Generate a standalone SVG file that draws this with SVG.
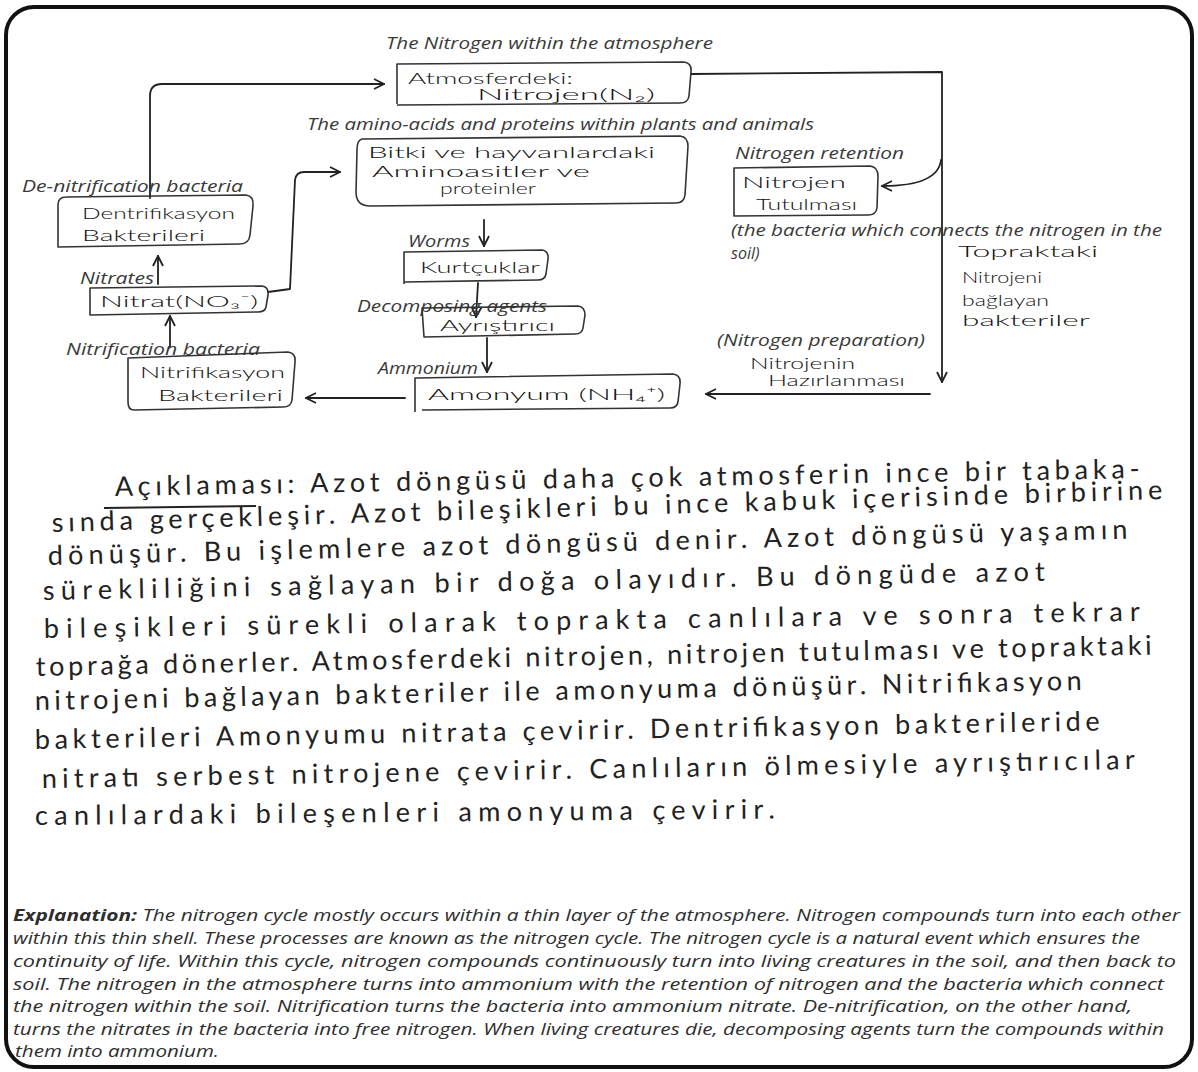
<svg xmlns="http://www.w3.org/2000/svg" width="1198" height="1072" viewBox="0 0 1198 1072">
  <defs>
    <marker id="arr" viewBox="0 0 12 12" refX="11" refY="6" markerWidth="12" markerHeight="12" markerUnits="userSpaceOnUse" orient="auto">
      <path d="M1,1 L11,6 L1,11" fill="none" stroke="#222" stroke-width="1.8"/>
    </marker>
    <style>
      .cap { font-family: "Open Sans", "Noto Sans", sans-serif; font-style: italic; font-size: 16px; fill: #3a3a3a; }
      .hw { font-family: "Lato", "Open Sans", "DejaVu Sans", sans-serif; font-weight: 400; fill: #222; }
      .hb { font-size: 16px; font-weight: 300; fill: #111; }
      .hp { font-size: 27px; }
      .box { fill: none; stroke: #333; stroke-width: 1.6; stroke-linejoin: round; }
      .conn { fill: none; stroke: #222; stroke-width: 1.8; stroke-linecap: round; stroke-linejoin: round; }
      .ex { font-family: "Open Sans", "Noto Sans", sans-serif; font-style: italic; font-size: 16px; fill: #2e2e2e; }
    </style>
  </defs>

  <rect width="1198" height="1072" fill="#fff"/>
  <!-- outer frame -->
  <rect x="6" y="7" width="1186" height="1060" rx="28" ry="28" fill="none" stroke="#111" stroke-width="4"/>

  <!-- connectors -->
  <g id="connectors">
    <path class="conn" d="M150,198 L150,96 Q150,84 162,84 L384,84" marker-end="url(#arr)"/>
    <path class="conn" d="M691,74 L942,72 L942,382" marker-end="url(#arr)"/>
    <path class="conn" d="M941,160 Q938,186 882,186" marker-end="url(#arr)"/>
    <path class="conn" d="M930,394 L706,394" marker-end="url(#arr)"/>
    <path class="conn" d="M405,398 L306,398" marker-end="url(#arr)"/>
    <path class="conn" d="M268,292 L290,289 L295,180 Q296,172 304,172 L340,172" marker-end="url(#arr)"/>
    <path class="conn" d="M158,284 L158,256" marker-end="url(#arr)"/>
    <path class="conn" d="M170,347 L170,316" marker-end="url(#arr)"/>
    <path class="conn" d="M484,220 L484,246" marker-end="url(#arr)"/>
    <path class="conn" d="M478,283 L476,317" marker-end="url(#arr)"/>
    <path class="conn" d="M487,338 L487,372" marker-end="url(#arr)"/>
  </g>

  <!-- nodes -->
  <g id="atmosphere">
    <text class="cap" x="386" y="49" textLength="327" lengthAdjust="spacingAndGlyphs">The Nitrogen within the atmosphere</text>
    <path class="box" d="M397,104 L397,64 L684,62 Q692,63 691,72 L689,96 Q688,103 680,103 L397,105"/>
    <text class="hw hb" x="408" y="84" textLength="165" lengthAdjust="spacingAndGlyphs">Atmosferdeki:</text>
    <text class="hw hb" x="477" y="100" textLength="178" lengthAdjust="spacingAndGlyphs">Nitrojen(N₂)</text>
  </g>

  <g id="plants-animals">
    <text class="cap" x="307" y="130" textLength="507" lengthAdjust="spacingAndGlyphs">The amino-acids and proteins within plants and animals</text>
    <path class="box" d="M362,139 L680,136 Q688,137 688,146 L685,195 Q684,203 676,203 L370,206 Q356,206 356,192 L357,150 Q357,140 362,139 Z"/>
    <text class="hw hb" x="368" y="158" textLength="287" lengthAdjust="spacingAndGlyphs">Bitki ve hayvanlardaki</text>
    <text class="hw hb" x="372" y="177" textLength="218" lengthAdjust="spacingAndGlyphs">Aminoasitler ve</text>
    <text class="hw hb" font-size="14" x="440" y="194" textLength="96" lengthAdjust="spacingAndGlyphs">proteinler</text>
  </g>

  <g id="nitrogen-retention">
    <text class="cap" x="735" y="159" textLength="169" lengthAdjust="spacingAndGlyphs">Nitrogen retention</text>
    <path class="box" d="M734,216 L734,168 L870,166 Q878,167 878,176 L877,208 Q876,215 868,215 Z"/>
    <text class="hw hb" x="742" y="188" textLength="104" lengthAdjust="spacingAndGlyphs">Nitrojen</text>
    <text class="hw hb" x="756" y="210" textLength="101" lengthAdjust="spacingAndGlyphs">Tutulması</text>
    <text class="cap" x="731" y="236" textLength="431" lengthAdjust="spacingAndGlyphs">(the bacteria which connects the nitrogen in the</text>
    <text class="cap" x="731" y="259">soil)</text>
  </g>

  <g id="soil-bacteria">
    <text class="hw hb" font-size="18" x="958" y="257" textLength="140" lengthAdjust="spacingAndGlyphs">Topraktaki</text>
    <text class="hw hb" font-size="18" x="962" y="283" textLength="80" lengthAdjust="spacingAndGlyphs">Nitrojeni</text>
    <text class="hw hb" font-size="18" x="962" y="306" textLength="87" lengthAdjust="spacingAndGlyphs">bağlayan</text>
    <text class="hw hb" font-size="15" x="962" y="326" textLength="128" lengthAdjust="spacingAndGlyphs">bakteriler</text>
  </g>

  <g id="denitrification">
    <text class="cap" x="22" y="192" textLength="221" lengthAdjust="spacingAndGlyphs">De-nitrification bacteria</text>
    <path class="box" d="M66,197 L246,195 Q254,196 253,206 L250,235 Q249,244 240,244 L58,247 L58,205 Q58,197 66,197"/>
    <text class="hw hb" x="82" y="219" textLength="153" lengthAdjust="spacingAndGlyphs">Dentrifikasyon</text>
    <text class="hw hb" x="82" y="241" textLength="123" lengthAdjust="spacingAndGlyphs">Bakterileri</text>
  </g>

  <g id="nitrate">
    <text class="cap" x="80" y="284" textLength="74" lengthAdjust="spacingAndGlyphs">Nitrates</text>
    <path class="box" d="M90,315 L90,288 L262,286 Q269,287 268,295 L266,307 Q265,312 258,312 Z"/>
    <text class="hw hb" x="100" y="307" textLength="158" lengthAdjust="spacingAndGlyphs">Nitrat(NO₃⁻)</text>
  </g>

  <g id="nitrification">
    <text class="cap" x="66" y="355" textLength="194" lengthAdjust="spacingAndGlyphs">Nitrification bacteria</text>
    <path class="box" d="M128,358 L288,352 Q296,353 295,362 L292,400 Q291,407 283,407 L134,410 Q128,410 128,402 Z"/>
    <text class="hw hb" x="140" y="378" textLength="145" lengthAdjust="spacingAndGlyphs">Nitrifikasyon</text>
    <text class="hw hb" x="158" y="401" textLength="125" lengthAdjust="spacingAndGlyphs">Bakterileri</text>
  </g>

  <g id="worms">
    <text class="cap" x="408" y="247" textLength="62" lengthAdjust="spacingAndGlyphs">Worms</text>
    <path class="box" d="M404,284 L404,252 L542,250 Q549,251 548,259 L546,274 Q545,280 538,280 L404,282"/>
    <text class="hw hb" x="420" y="273" textLength="120" lengthAdjust="spacingAndGlyphs">Kurtçuklar</text>
  </g>

  <g id="decomposers">
    <text class="cap" x="357" y="312" textLength="190" lengthAdjust="spacingAndGlyphs">Decomposing agents</text>
    <path class="box" d="M424,337 L422,308 L578,306 Q585,307 585,315 L583,328 Q582,334 575,334 Z"/>
    <text class="hw hb" x="440" y="331" textLength="115" lengthAdjust="spacingAndGlyphs">Ayrıştırıcı</text>
  </g>

  <g id="ammonium">
    <text class="cap" x="378" y="374" textLength="100" lengthAdjust="spacingAndGlyphs">Ammonium</text>
    <path class="box" d="M415,412 L415,378 L673,374 Q681,375 680,384 L678,402 Q677,408 670,408 L422,410"/>
    <text class="hw hb" font-size="17" x="428" y="400" textLength="237" lengthAdjust="spacingAndGlyphs">Amonyum (NH₄⁺)</text>
  </g>

  <g id="nitrogen-preparation">
    <text class="cap" x="717" y="346" textLength="208" lengthAdjust="spacingAndGlyphs">(Nitrogen preparation)</text>
    <text class="hw hb" font-size="13" x="750" y="369" textLength="105" lengthAdjust="spacingAndGlyphs">Nitrojenin</text>
    <text class="hw hb" font-size="13" x="768" y="386" textLength="137" lengthAdjust="spacingAndGlyphs">Hazırlanması</text>
  </g>

  <!-- handwritten description -->
  <g id="description" class="hw hp">
    <text transform="rotate(-1.0 115 496)" x="115" y="496" textLength="1025" lengthAdjust="spacing">Açıklaması: Azot döngüsü daha çok atmosferin ince bir tabaka-</text>
    <path d="M104,508 L256,506" fill="none" stroke="#222" stroke-width="1.8"/>
    <text transform="rotate(-1.7 52 532)" x="52" y="532" textLength="1111" lengthAdjust="spacing">sında gerçekleşir. Azot bileşikleri bu ince kabuk içerisinde birbirine</text>
    <text transform="rotate(-1.4 48 565)" x="48" y="565" textLength="1080" lengthAdjust="spacing">dönüşür. Bu işlemlere azot döngüsü denir. Azot döngüsü yaşamın</text>
    <text transform="rotate(-1.1 43 600)" x="43" y="600" textLength="1002" lengthAdjust="spacing">sürekliliğini sağlayan bir doğa olayıdır. Bu döngüde azot</text>
    <text transform="rotate(-0.9 44 638)" x="44" y="638" textLength="1096" lengthAdjust="spacing">bileşikleri sürekli olarak toprakta canlılara ve sonra tekrar</text>
    <text transform="rotate(-1.1 36 676)" x="36" y="676" textLength="1116" lengthAdjust="spacing">toprağa dönerler. Atmosferdeki nitrojen, nitrojen tutulması ve topraktaki</text>
    <text transform="rotate(-1.1 35 710)" x="35" y="710" textLength="1047" lengthAdjust="spacing">nitrojeni bağlayan bakteriler ile amonyuma dönüşür. Nitrifikasyon</text>
    <text transform="rotate(-1.0 35 749)" x="35" y="749" textLength="1065" lengthAdjust="spacing">bakterileri Amonyumu nitrata çevirir. Dentrifikasyon bakterileride</text>
    <text transform="rotate(-1.0 42 788)" x="42" y="788" textLength="1093" lengthAdjust="spacing">nitratı serbest nitrojene çevirir. Canlıların ölmesiyle ayrıştırıcılar</text>
    <text transform="rotate(-0.5 35 825)" x="35" y="825" textLength="740" lengthAdjust="spacing">canlılardaki bileşenleri amonyuma çevirir.</text>
  </g>

  <!-- English explanation -->
  <g id="explanation" class="ex">
    <text x="13" y="921" textLength="1167" lengthAdjust="spacingAndGlyphs"><tspan font-weight="bold">Explanation:</tspan>  The nitrogen cycle mostly occurs within a thin layer of the atmosphere. Nitrogen  compounds  turn  into  each other</text>
    <text x="13" y="944" textLength="1127" lengthAdjust="spacingAndGlyphs">within this thin shell. These processes are known as the nitrogen cycle. The nitrogen cycle is a natural event which ensures the</text>
    <text x="13" y="967" textLength="1163" lengthAdjust="spacingAndGlyphs">continuity of life. Within  this  cycle,  nitrogen  compounds  continuously  turn  into  living  creatures  in  the soil, and then back to</text>
    <text x="13" y="990" textLength="1151" lengthAdjust="spacingAndGlyphs">soil. The nitrogen in the atmosphere  turns  into  ammonium  with  the  retention  of  nitrogen  and  the  bacteria  which  connect</text>
    <text x="13" y="1012" textLength="1119" lengthAdjust="spacingAndGlyphs">the  nitrogen  within  the  soil. Nitrification  turns  the  bacteria  into ammonium  nitrate. De-nitrification, on the other hand,</text>
    <text x="13" y="1035" textLength="1151" lengthAdjust="spacingAndGlyphs">turns the nitrates in the bacteria into free nitrogen. When living creatures die, decomposing agents turn the compounds within</text>
    <text x="15" y="1057" textLength="204" lengthAdjust="spacingAndGlyphs">them into ammonium.</text>
  </g>
</svg>
